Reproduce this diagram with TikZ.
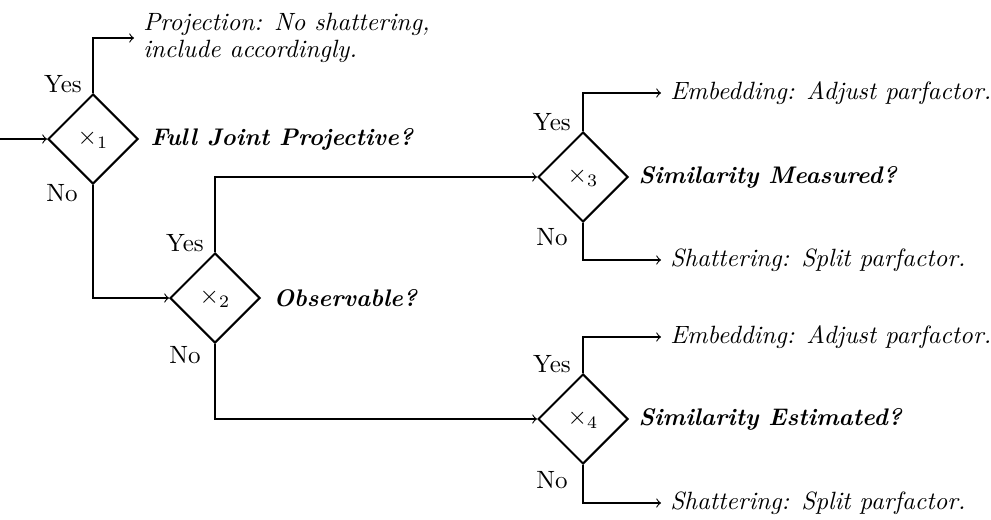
\documentclass[tikz,border=0pt]{standalone}
\usetikzlibrary{shapes.geometric}
\begin{document}
\begin{tikzpicture}[x=0.4pt,y=-0.4pt,
  decision/.style={draw,shape=diamond,line width=0.8pt,minimum width=36pt,minimum height=36pt,inner sep=0pt},
  flow/.style={->,line width=0.45pt},
  question/.style={anchor=west,inner sep=0pt,font=\fontsize{9.6}{12}\selectfont\bfseries\itshape},
  outcome/.style={anchor=west,inner xsep=3.5pt,inner ysep=0pt,font=\itshape,align=left},
  answer/.style={inner sep=0pt}]
\useasboundingbox (0,0) rectangle (991,519);

% decision points
\node[decision] (d1) at (93,139) {$\times_1$};
\node[decision] (d2) at (215,298) {$\times_2$};
\node[decision] (d3) at (583,177) {$\times_3$};
\node[decision] (d4) at (583,419) {$\times_4$};

% questions beside each decision
\node[question] (q1) at (150,139) {Full Joint Projective?};
\node[question] (q2) at (273,298) {Observable?};
\node[question] (q3) at (638,177) {Similarity Measured?};
\node[question] (q4) at (638,419) {Similarity Estimated?};

% outcomes
\node[outcome] (proj) at (134,38) {Projection: No shattering,\\[-1pt]include accordingly.};
\node[outcome] (emb3) at (661,93) {Embedding: Adjust parfactor.};
\node[outcome] (sha3) at (661,260) {Shattering: Split parfactor.};
\node[outcome] (emb4) at (661,337) {Embedding: Adjust parfactor.};
\node[outcome] (sha4) at (661,503) {Shattering: Split parfactor.};

% answer labels
\node[answer] (y1) at (63,84) {Yes};
\node[answer] (n1) at (62,193) {No};
\node[answer] (y2) at (185,243) {Yes};
\node[answer] (n2) at (185,355) {No};
\node[answer] (y3) at (552,122) {Yes};
\node[answer] (n3) at (552,237) {No};
\node[answer] (y4) at (552,364) {Yes};
\node[answer] (n4) at (552,480) {No};

% entry
\coordinate (in) at (0,139);
\draw[flow] (in) -- (d1.west);

% branches
\draw[flow] (d1.north) |- (proj.west);
\draw[flow] (d1.south) |- (d2.west);
\draw[flow] (d2.north) |- (d3.west);
\draw[flow] (d2.south) |- (d4.west);
\draw[flow] (d3.north) |- (emb3.west);
\draw[flow] (d3.south) |- (sha3.west);
\draw[flow] (d4.north) |- (emb4.west);
\draw[flow] (d4.south) |- (sha4.west);
\end{tikzpicture}
\end{document}
